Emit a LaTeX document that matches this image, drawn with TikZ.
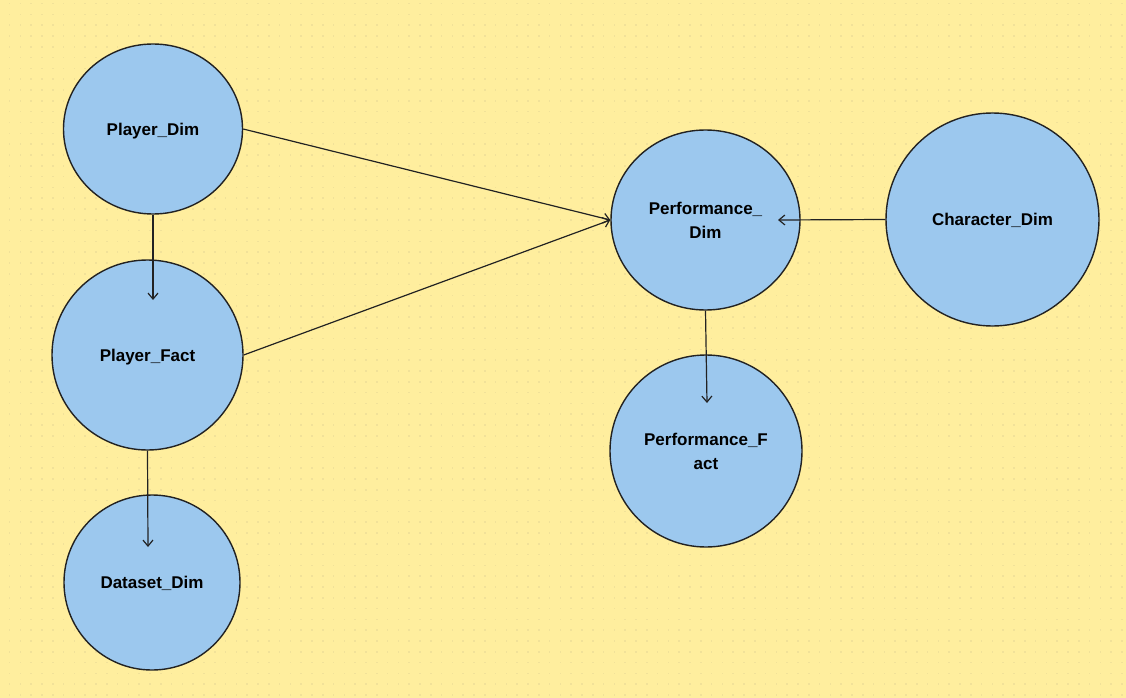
\documentclass[tikz,border=0pt]{standalone}
\usepackage{fontspec}
\setmainfont{Liberation Sans}
\usetikzlibrary{shapes.geometric,arrows.meta}

\definecolor{paper}{HTML}{FFEE9E}
\definecolor{paperdot}{HTML}{F1E199}
\definecolor{entityblue}{HTML}{9CC8EE}
\definecolor{ink}{HTML}{222222}

\tikzset{
  entity/.style={ellipse, draw=ink, line width=1.4pt, fill=entityblue, inner sep=0pt,
    align=center, text depth=0pt, font=\fontsize{17}{24}\selectfont\bfseries},
  link/.style={draw=ink, line width=1.2pt, -{Straight Barb[length=6pt,width=10pt]}}
}

\begin{document}
\begin{tikzpicture}[x=1pt,y=-1pt]

\fill[paper] (0,0) rectangle (1126,698);
\useasboundingbox (0,0) rectangle (1126,698);

\foreach \i in {0,...,104}
\foreach \j in {0,...,64}
\fill[paperdot] ({9.6+10.8*\i-0.8},{3.7+10.8*\j-0.8}) rectangle ++(1.6,1.6);


\node[entity, minimum width=179pt, minimum height=170pt] (pdim) at (153,129) {Player\_Dim};
\node[entity, minimum width=191pt, minimum height=190pt] (pfact) at (147.5,355) {Player\_Fact};
\node[entity, minimum width=176pt, minimum height=175pt] (dsdim) at (152,582.5) {Dataset\_Dim};
\node[entity, minimum width=189pt, minimum height=180pt] (perfdim) at (705.5,220) {Performance\_\\Dim};
\node[entity, minimum width=213pt, minimum height=213pt] (chardim) at (992.5,219.5) {Character\_Dim};
\node[entity, minimum width=192pt, minimum height=192pt] (perffact) at (706,451) {Performance\_F\\act};

\coordinate (pfactin) at (153,300);
\coordinate (dsdimin) at (148,547);
\coordinate (perfdimin) at (778,220);
\coordinate (perffactin) at (707,403);

\draw[link] (pdim.east) -- (perfdim.west);
\draw[link] (pfact.east) -- (perfdim.west);
\draw[link] (pdim.south) -- (pfactin);
\draw[link] (pfact.south) -- (dsdimin);
\draw[link] (chardim.west) -- (perfdimin);
\draw[link] (perfdim.south) -- (perffactin);

\end{tikzpicture}
\end{document}
